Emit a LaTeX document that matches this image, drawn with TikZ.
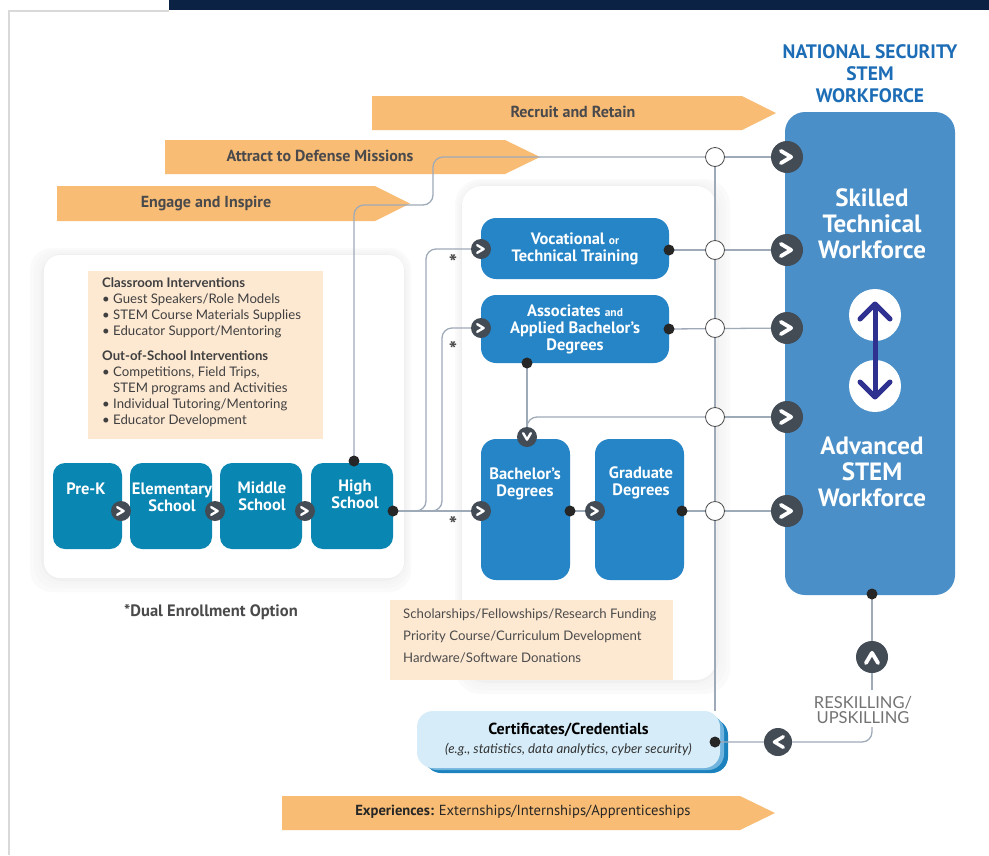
\documentclass[tikz,border=0pt]{standalone}
\usepackage{fontspec}
\setmainfont{Lato}
\newfontfamily\headfont{PT Sans}
\usetikzlibrary{positioning}

% colours
\definecolor{navybar}{HTML}{0B2244}
\definecolor{bandorange}{HTML}{F8BC74}
\definecolor{bandtext}{HTML}{4A4A4C}
\definecolor{schoolteal}{HTML}{0A86B2}
\definecolor{degreeblue}{HTML}{2585C7}
\definecolor{wfblue}{HTML}{4A8FC8}
\definecolor{chevgray}{HTML}{434B55}
\definecolor{wiregray}{HTML}{9FAAB8}
\definecolor{notebeige}{HTML}{FDE8D2}
\definecolor{titleblue}{HTML}{1D6DB6}
\definecolor{arrownavy}{HTML}{2E3190}
\definecolor{certfill}{HTML}{D6EDF9}
\definecolor{certmid}{HTML}{70B4DE}
\definecolor{certdark}{HTML}{1B82BE}

\pgfdeclarelayer{panels}
\pgfdeclarelayer{wires}
\pgfsetlayers{panels,wires,main}

\tikzset{
  wire/.style={draw=wiregray, line width=1.3pt},
  dot/.style={circle, fill=black!85, inner sep=0pt, minimum size=11pt},
  ring/.style={circle, draw=black!70, line width=0.8pt, fill=white, inner sep=0pt, minimum size=19pt},
  chev/.style 2 args={circle, fill=chevgray, inner sep=0pt, minimum size=#1,
    path picture={\draw[white, line width=0.12*#1, line cap=round, line join=round]
      ([shift={(#2+135:0.27*#1)}]path picture bounding box.center) --
      ([shift={(#2:0.13*#1)}]path picture bounding box.center) --
      ([shift={(#2-135:0.27*#1)}]path picture bounding box.center);}},
  bandtext/.style={text=bandtext, inner sep=0pt, font=\headfont\bfseries\fontsize{16}{18}\selectfont},
  school/.style={fill=schoolteal, rounded corners=12pt, inner sep=0pt, minimum width=#1, minimum height=86pt},
  degree/.style 2 args={fill=degreeblue, rounded corners=15pt, inner sep=0pt, minimum width=#1, minimum height=#2},
  boxtext/.style={text=white, align=center, inner sep=0pt, font=\headfont\bfseries\fontsize{16.5}{17}\selectfont},
  notetext/.style={text=black!75, align=left, inner sep=0pt, anchor=north west, font=\fontsize{13.2}{16}\selectfont},
}

\begin{document}
\begin{tikzpicture}[x=1pt, y=-1pt]
\useasboundingbox (0,0) rectangle (989,855);

\begin{pgfonlayer}{panels}
% page, top bar and the card edge
\fill[white] (0,0) rectangle (989,855);
\fill[navybar] (169,0) rectangle (989,10);
\draw[black!15, line width=2pt] (9,855) -- (9,11) -- (169,11);

% orange bands
\fill[bandorange] (372,96) -- (742,96) -- (776,113) -- (742,130) -- (372,130) -- cycle;
\fill[bandorange] (165,140) -- (505,140) -- (540,157) -- (505,174) -- (165,174) -- cycle;
\fill[bandorange] (57,186) -- (375,186) -- (410,203.5) -- (375,221) -- (57,221) -- cycle;
\fill[bandorange] (282,796) -- (740,796) -- (775,813) -- (740,830) -- (282,830) -- cycle;

% school panel with soft shadow
\foreach \s/\g in {14/2,10/3,6/4,3/6}
  \fill[black!\g, rounded corners=22pt] ({44-\s},{255-\s/2}) rectangle ({404+\s/2},{578+\s});
\fill[white, rounded corners=16pt] (44,255) rectangle (404,578);
\fill[notebeige] (88,271) rectangle (323,439);

% higher education panel with soft shadow
\foreach \s/\g in {14/2,10/3,6/4,3/6}
  \fill[black!\g, rounded corners=26pt] ({462-\s/2},{186-\s/2}) rectangle ({716+\s},{680+\s});
\fill[white, rounded corners=20pt] (462,186) rectangle (716,680);
\fill[notebeige] (390,600) rectangle (673,680);

% certificate box layers
\fill[certdark, rounded corners=16pt] (425,719) rectangle (728,773);
\fill[certmid, rounded corners=16pt] (421,715) rectangle (724,770);
\end{pgfonlayer}

% band labels
\node[bandtext] (recruit) at (573,112) {Recruit and Retain};
\node[bandtext] (attract) at (320,156) {Attract to Defense Missions};
\node[bandtext] (engage) at (206,204) {Engage and Inspire};
\node[bandtext, text=black!85, font=\headfont\bfseries\fontsize{14.6}{18}\selectfont] (exper) at (523,812)
  {Experiences: \mdseries Externships/Internships/Apprenticeships};

% title
\node[text=titleblue, align=center, inner sep=0pt, font=\headfont\bfseries\fontsize{19.5}{22}\selectfont]
  (title) at (870,74) {NATIONAL SECURITY\\STEM\\WORKFORCE};

% K-12 notes
\node[notetext] (k12notes) at (102,277) {%
  \textbf{Classroom Interventions}\\
  • Guest Speakers/Role Models\\
  • STEM Course Materials Supplies\\
  • Educator Support/Mentoring\\[9pt]
  \textbf{Out-of-School Interventions}\\
  • Competitions, Field Trips,\\
  \phantom{• }STEM programs and Activities\\
  • Individual Tutoring/Mentoring\\
  • Educator Development};

% schools
\node[school=69pt] (prek) at (87.5,506) {};
\node[school=82pt] (elem) at (171,506) {};
\node[school=82pt] (mid) at (261,506) {};
\node[school=82pt] (high) at (352,506) {};
\node[boxtext] at (86,489) {Pre-K};
\node[boxtext] at (172,497) {Elementary\\School};
\node[boxtext] at (262,496) {Middle\\School};
\node[boxtext] at (355,494) {High\\School};
\node[chev={20}{0}] (toelem) at (121,511) {};
\node[chev={20}{0}] (tomid) at (215,511) {};
\node[chev={20}{0}] (tohigh) at (305,511) {};
\node[dot] (hstop) at (354,461) {};
\node[dot] (hsout) at (393,511) {};

\node[text=bandtext, inner sep=0pt, font=\headfont\bfseries\fontsize{16.5}{18}\selectfont]
  (dual) at (211,612) {*Dual Enrollment Option};

% higher education boxes
\node[degree={188pt}{61pt}, boxtext] (voc) at (575,248.5)
  {Vocational {\fontsize{11.5}{17}\selectfont or}\\Technical Training};
\node[degree={188pt}{68pt}, boxtext] (assoc) at (575,329)
  {Associates {\fontsize{11.5}{17}\selectfont and}\\Applied Bachelor’s\\Degrees};
\node[degree={89pt}{141pt}] (bach) at (525.5,509.5) {};
\node[degree={89pt}{141pt}] (grad) at (639.5,509.5) {};
\node[boxtext] at (525,484) {Bachelor’s\\Degrees};
\node[boxtext] at (641,483) {Graduate\\Degrees};

\node[chev={20}{0}] (tovoc) at (481,249) {};
\node[chev={20}{0}] (toassoc) at (481,328) {};
\node[chev={20}{0}] (tobach) at (481,511) {};
\node[chev={20}{0}] (tograd) at (595,511) {};
\node[chev={20}{90}] (downbach) at (527,437) {};
\node[dot] (vocout) at (669,250) {};
\node[dot] (assocout) at (669,329) {};
\node[dot] (assocdown) at (527,363) {};
\node[dot] (bachout) at (570,511) {};
\node[dot] (gradout) at (682,511) {};

% dual enrollment marks
\foreach \y in {262,349,524}
  \node[text=bandtext, inner sep=0pt, font=\headfont\bfseries\fontsize{22}{22}\selectfont] at (453,\y) {*};

\node[notetext, text=black!70, font=\fontsize{13.2}{22}\selectfont] (hednotes) at (403,609) {%
  Scholarships/Fellowships/Research Funding\\
  Priority Course/Curriculum Development\\
  Hardware/Software Donations};

% workforce column
\node[fill=wfblue, rounded corners=20pt, minimum width=170pt, minimum height=483pt] (wf) at (870,353.5) {};
\node[boxtext, font=\headfont\bfseries\fontsize{25}{26}\selectfont] (skilled) at (872,224) {Skilled\\Technical\\Workforce};
\node[boxtext, font=\headfont\bfseries\fontsize{25}{26}\selectfont] (advanced) at (872,472) {Advanced\\STEM\\Workforce};
\node[circle, fill=white, minimum size=52pt] (wfup) at (875,315) {};
\node[circle, fill=white, minimum size=52pt] (wfdown) at (875,386) {};
\draw[arrownavy, line width=5pt, line cap=round, line join=round] (875,305) -- (875,396);
\draw[arrownavy, line width=5pt, line cap=round, line join=round] (860,319) -- (875,304) -- (890,319);
\draw[arrownavy, line width=5pt, line cap=round, line join=round] (860,382) -- (875,397) -- (890,382);

% bus rings and entry chevrons
\foreach \n/\y in {1/157,2/250,3/328,4/417,5/511} {
  \node[ring] (r\n) at (715,\y) {};
  \node[chev={32}{0}] (wf\n) at (787,\y) {};
}

% reskilling loop
\node[dot] (wfout) at (872,594) {};
\node[chev={32}{-90}] (reskill) at (872,657) {};
\node[text=black!55, align=center, inner sep=0pt, font=\fontsize{16.5}{15.5}\selectfont]
  (reskilltxt) at (863,710) {RESKILLING/\\UPSKILLING};
\coordinate (rsa) at (872,690);
\coordinate (rsb) at (872,727);
\node[chev={28}{180}] (back) at (778,742) {};

% certificates
\node[fill=certfill, rounded corners=16pt, minimum width=303pt, minimum height=57pt, align=center, inner sep=0pt]
  (cert) at (568.5,739.5)
  {{\headfont\bfseries\fontsize{16}{16}\selectfont Certificates/Credentials}\\[5pt]
   {\itshape\fontsize{13.3}{13}\selectfont\color{black!80}(e.g., statistics, data analytics, cyber security)}};
\node[dot] (certin) at (715,742) {};
\coordinate (busend) at (715,711);

\begin{pgfonlayer}{wires}
% high school to the missions band
\draw[wire, rounded corners=10pt] (hstop.center) -- (354,205) -- (433,205) -- (433,157) -- (r1.center);
\draw[wire] (r1.center) -- (wf1.center);
\draw[wire] (r1.center) -- (busend);
% high school to higher education
\draw[wire] (hsout.center) -- (tobach.center);
\draw[wire, rounded corners=10pt] (hsout.center) -- (426,511) -- (426,249) -- (tovoc.center);
\draw[wire, rounded corners=10pt] (hsout.center) -- (442,511) -- (442,328) -- (toassoc.center);
% higher education to workforce
\draw[wire] (vocout.center) -- ++(-12,0);
\draw[wire] (vocout.center) -- (wf2.center);
\draw[wire] (assocout.center) -- ++(-12,0);
\draw[wire] (assocout.center) -- (wf3.center);
\draw[wire] (assocdown.center) -- (downbach.center);
\draw[wire, rounded corners=10pt] (r4.center) -- (527,417) -- (downbach.center);
\draw[wire] (r4.center) -- (wf4.center);
\draw[wire] (bachout.center) -- (tograd.center);
\draw[wire] (gradout.center) -- ++(-26,0);
\draw[wire] (gradout.center) -- (wf5.center);
% reskilling back to certificates
\draw[wire] (wfout.center) -- (rsa);
\draw[wire, rounded corners=10pt] (rsb) -- (872,742) -- (certin.center);
\end{pgfonlayer}

\end{tikzpicture}
\end{document}
